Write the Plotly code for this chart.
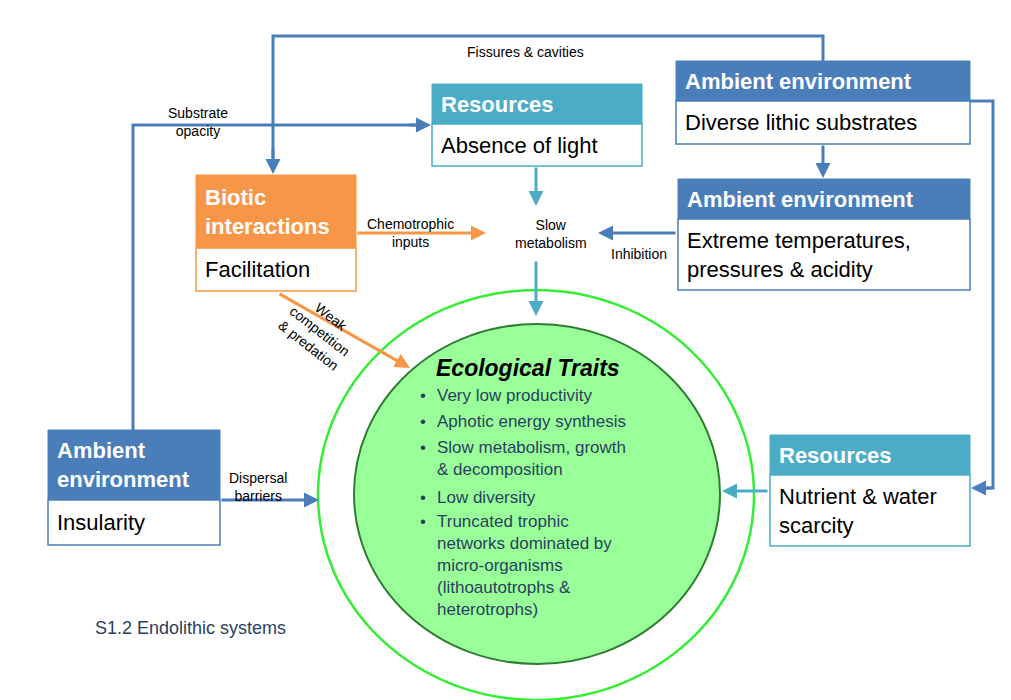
import plotly.graph_objects as go

W, H = 1011, 700
BLUE = "#4a7ebb"
TEAL = "#4bacc6"
ORANGE = "#f79646"
FONT = "Liberation Sans"

# boxes: x0, x1, y_top, y_mid, y_bottom, header, body, colour
box_names = ["lithic", "light", "extreme", "biotic", "insular", "nutrient"]
box_x0 = [668, 424, 670, 188, 40, 762]
box_x1 = [962, 634, 962, 348, 212, 962]
box_top = [53, 76, 171, 167, 422, 427]
box_mid = [93, 116, 211, 240, 492, 467]
box_bot = [136, 158, 282, 283, 537, 538]
box_head = ["Ambient environment", "Resources", "Ambient environment",
            "Biotic<br>interactions", "Ambient<br>environment", "Resources"]
box_body = ["Diverse lithic substrates", "Absence of light",
            "Extreme temperatures,<br>pressures & acidity", "Facilitation",
            "Insularity", "Nutrient & water<br>scarcity"]
box_col = [BLUE, TEAL, BLUE, ORANGE, BLUE, TEAL]

traits = ["Very low productivity", "Aphotic energy synthesis",
          "Slow metabolism, growth<br>& decomposition", "Low diversity",
          "Truncated trophic<br>networks dominated by<br>micro-organisms<br>(lithoautotrophs &<br>heterotrophs)"]
trait_y = [386, 412, 450, 488, 562]

fig = go.Figure()
shapes, ann = [], []

# circles
shapes.append(dict(type="circle", x0=310, x1=746, y0=282, y1=692,
                   line=dict(color="#33ee33", width=2.5), fillcolor="white"))
shapes.append(dict(type="circle", x0=346, x1=712, y0=316, y1=656,
                   line=dict(color="#2e7d32", width=2), fillcolor="#99ff99"))

for i in range(len(box_names)):
    shapes.append(dict(type="rect", x0=box_x0[i], x1=box_x1[i], y0=box_top[i], y1=box_mid[i],
                       fillcolor=box_col[i], line=dict(color=box_col[i], width=1)))
    shapes.append(dict(type="rect", x0=box_x0[i], x1=box_x1[i], y0=box_mid[i], y1=box_bot[i],
                       fillcolor="white", line=dict(color=box_col[i], width=1.5)))
    ann.append(dict(x=box_x0[i] + 7, y=(box_top[i] + box_mid[i]) / 2, text="<b>" + box_head[i] + "</b>",
                    xanchor="left", yanchor="middle", align="left", showarrow=False,
                    font=dict(family=FONT, size=22, color="white")))
    ann.append(dict(x=box_x0[i] + 7, y=(box_mid[i] + box_bot[i]) / 2, text=box_body[i],
                    xanchor="left", yanchor="middle", align="left", showarrow=False,
                    font=dict(family=FONT, size=22, color="black")))

# connector lines (no heads)
paths = [("M815,53 L815,28 L265,28 L265,150", BLUE),
         ("M125,422 L125,117 L410,117", BLUE),
         ("M962,93 L985,93 L985,480 L975,480", BLUE)]
for p, c in paths:
    shapes.append(dict(type="path", path=p, line=dict(color=c, width=3)))

# arrows: (x_tail, y_tail, x_head, y_head, colour)
arrows = [(265, 140, 265, 166, BLUE), (400, 117, 423, 117, BLUE),
          (985, 480, 963, 480, BLUE), (815, 136, 815, 170, BLUE),
          (669, 225, 590, 225, BLUE), (212, 492, 311, 492, BLUE),
          (761, 483, 714, 483, TEAL), (528, 158, 528, 198, TEAL),
          (528, 252, 528, 308, TEAL), (348, 225, 478, 225, ORANGE),
          (270, 285, 402, 360, ORANGE)]
for x0, y0, x1, y1, c in arrows:
    ann.append(dict(x=x1, y=y1, ax=x0, ay=y0, xref="x", yref="y", axref="x", ayref="y",
                    text="", showarrow=True, arrowhead=2, arrowsize=1, arrowwidth=3,
                    arrowcolor=c))

small = [(517, 44, "Fissures & cavities", 0), (190, 114, "Substrate<br>opacity", 0),
         (402, 225, "Chemotrophic<br>inputs", 0), (543, 226, "Slow<br>metabolism", 0),
         (631, 246, "Inhibition", 0), (250, 479, "Dispersal<br>barriers", 0),
         (312, 323, "Weak<br>competition<br>& predation", 38)]
for x, y, t, a in small:
    ann.append(dict(x=x, y=y, text=t, showarrow=False, textangle=a, xanchor="center",
                    yanchor="middle", font=dict(family=FONT, size=14, color="black"),
                    bgcolor="rgba(0,0,0,0)"))

ann.append(dict(x=520, y=360, text="<b><i>Ecological Traits</i></b>", showarrow=False,
                font=dict(family=FONT, size=23, color="black")))
for t, y in zip(traits, trait_y):
    ann.append(dict(x=412, y=y, text="•", showarrow=False, xanchor="left",
                    yanchor="middle" if "<br>" not in t else "top",
                    font=dict(family=FONT, size=17)))
for t, y in zip(traits, trait_y):
    pass
ann = ann[:-len(traits)]
trait_top = [376, 402, 428, 478, 502]
for t, y in zip(traits, trait_top):
    ann.append(dict(x=410, y=y, text="•", showarrow=False, xanchor="left", yanchor="top",
                    font=dict(family=FONT, size=17)))
    ann.append(dict(x=427, y=y, text=t, showarrow=False, xanchor="left", yanchor="top",
                    align="left", font=dict(family=FONT, size=17)))

ann.append(dict(x=85, y=620, text="S1.2 Endolithic systems", showarrow=False, xanchor="left",
                font=dict(family=FONT, size=18)))

fig.update_layout(width=W, height=H, margin=dict(l=0, r=0, t=0, b=0),
                  plot_bgcolor="white", paper_bgcolor="white",
                  shapes=shapes, annotations=ann, showlegend=False,
                  xaxis=dict(range=[0, W], visible=False, fixedrange=True),
                  yaxis=dict(range=[H, 0], visible=False, fixedrange=True))
fig.write_html("out.html")
